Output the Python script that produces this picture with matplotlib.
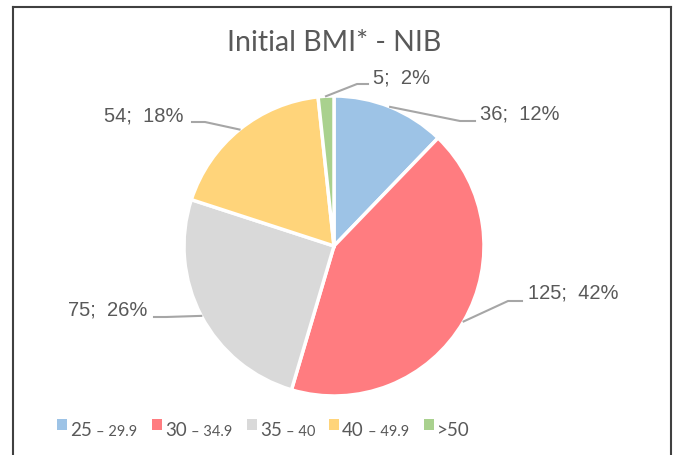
import matplotlib.pyplot as plt
from matplotlib.lines import Line2D
from matplotlib.patches import Rectangle
import numpy as np

# data
values = [36, 125, 75, 54, 5]
percents = [12, 42, 26, 18, 2]
legend_big = ["25", "30", "35", "40", ">50"]
legend_small = ["\u2013 29.9", "\u2013 34.9", "\u2013 40", "\u2013 49.9", ""]
colors = ["#9DC3E6", "#FF7C80", "#D9D9D9", "#FFD47A", "#A9D18E"]
title = "Initial BMI* - NIB"

W, H = 677, 456
text_col = "#595959"
line_col = "#A6A6A6"

# label layout in pixels: (text x, text y, ha, elbow, end)
label_layout = [
    (480, 114, "left", (460, 122), (475, 122)),
    (528, 293, "left", (508, 302), (522, 302)),
    (147, 310, "right", (166, 318), (154, 318)),
    (184, 116, "right", (205, 123), (192, 123)),
    (373, 78, "left", (357, 85), (368, 85)),
]
# legend layout in pixels: square x, small-part x
legend_sq_x = [57, 152, 247, 329, 424]
legend_small_x = [96, 191, 286, 368, None]

cx, cy, r = 334, 247, 150


def px2d(x, y):
    return (x - cx) / r, (cy - y) / r


fig = plt.figure(figsize=(W / 100, H / 100), dpi=100)
ax = fig.add_axes([(cx - r) / W, (H - cy - r) / H, 2 * r / W, 2 * r / H])
ax.axis("off")

wedges, _ = ax.pie(
    values,
    colors=colors,
    startangle=90,
    counterclock=False,
    radius=1,
    wedgeprops=dict(edgecolor="white", linewidth=2.5),
)
ax.set_xlim(-1, 1)
ax.set_ylim(-1, 1)

for w, v, p, (tx, ty, ha, elbow, end) in zip(wedges, values, percents, label_layout):
    mid = np.deg2rad((w.theta1 + w.theta2) / 2)
    ex, ey = np.cos(mid), np.sin(mid)
    bx, by = px2d(*elbow)
    nx, ny = px2d(*end)
    ax.plot([ex, bx, nx], [ey, by, ny], color=line_col, lw=1.5, clip_on=False)
    lx, ly = px2d(tx, ty)
    ax.text(lx, ly, f"{v};  {p}%", ha=ha, va="center", fontsize=14.5,
            family="Liberation Sans", color=text_col, clip_on=False)

fig.text(334 / W, 1 - 43 / H, title, ha="center", va="center", fontsize=20.5,
         family="Lato", color=text_col)

# legend drawn by hand so the two font sizes of the labels can be kept
base = 1 - 436 / H
for big, small, c, sx, smx in zip(legend_big, legend_small, colors,
                                  legend_sq_x, legend_small_x):
    fig.add_artist(Rectangle((sx / W, 1 - 431 / H), 10 / W, 11 / H,
                             transform=fig.transFigure, facecolor=c, edgecolor="none"))
    fig.text((sx + 13) / W, base, big, ha="left", va="baseline", fontsize=13.5,
             family="Lato", color=text_col)
    if small:
        fig.text(smx / W, base, small, ha="left", va="baseline",
                 fontsize=10.5, family="Lato", color=text_col)

# chart border (bottom edge is cut off in the reference)
bc = "#404040"
for xs, ys in [((13, 13), (8, H)), ((13, 671), (8, 8)), ((671, 671), (8, H))]:
    fig.add_artist(Line2D([v / W for v in xs], [1 - v / H for v in ys],
                          transform=fig.transFigure, color=bc, lw=1.5))

fig.savefig("out.png", dpi=100)
